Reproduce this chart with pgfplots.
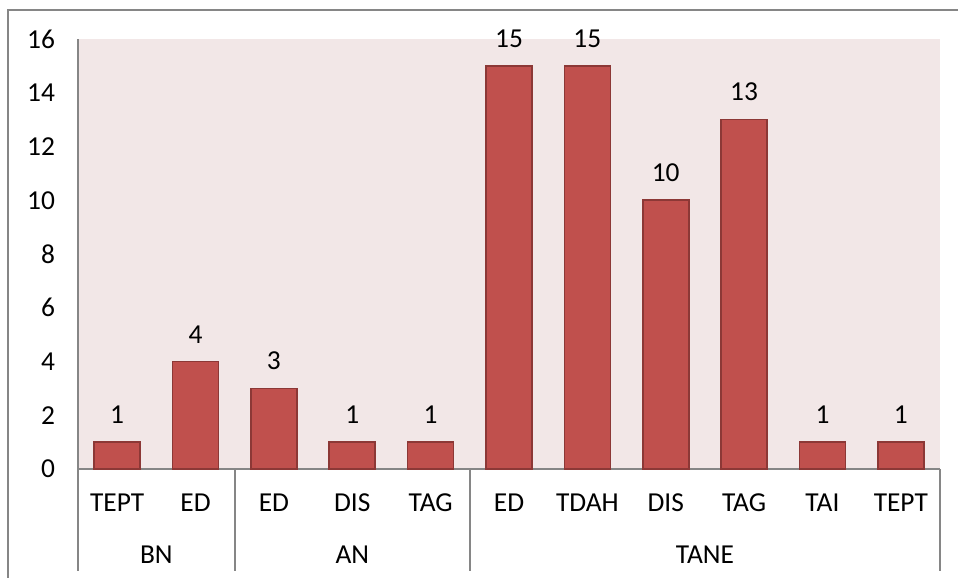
\documentclass[border=0pt]{standalone}
\usepackage{pgfplots}
\pgfplotsset{compat=1.18}
\usepackage{fontspec}
\setmainfont{Carlito}
\definecolor{barfill}{RGB}{192,80,77}
\definecolor{bardraw}{RGB}{140,56,54}
\definecolor{plotbg}{RGB}{242,231,231}
\definecolor{axgray}{RGB}{134,134,134}
\begin{document}
\begin{tikzpicture}
\useasboundingbox (-39pt,-54.5pt) rectangle (440pt,234.5pt);
\draw[axgray, line width=0.8pt] (-35pt,-80pt) -- (-35pt,229.5pt) -- (460pt,229.5pt);
\begin{axis}[
  at={(0,0)}, anchor=south west,
  scale only axis,
  width=431pt, height=215pt,
  xmin=-0.5, xmax=10.5,
  ymin=0, ymax=16,
  ytick={0,2,...,16},
  xtick={0,...,10},
  xticklabels={TEPT,ED,ED,DIS,TAG,ED,TDAH,DIS,TAG,TAI,TEPT},
  major tick length=0pt,
  axis x line*=bottom, axis y line*=left,
  axis line style={draw=axgray, line width=0.8pt, -},
  axis background/.style={fill=plotbg},
  font=\fontsize{13.7}{16}\selectfont,
  /pgf/number format/assume math mode=true,
  yticklabel style={anchor=east, xshift=-8pt},
  xticklabel style={anchor=center, yshift=-17pt},
  ybar, bar width=23pt,
  nodes near coords,
  nodes near coords style={font=\fontsize{13.7}{16}\selectfont, yshift=5.5pt},
  clip=false,
]
\addplot[fill=barfill, draw=bardraw, line width=0.8pt] coordinates {
(0,1) (1,4) (2,3) (3,1) (4,1) (5,15) (6,15) (7,10) (8,13) (9,1) (10,1)};
\foreach \s in {-0.5,1.5,4.5,10.5} {
  \edef\tmp{\noexpand\draw[axgray, line width=0.8pt] (axis cs:\s,0) -- ++(0pt,-51pt);}
  \tmp
}
\node[font=\fontsize{13.7}{16}\selectfont] at ([yshift=-43pt]axis cs:0.5,0) {BN};
\node[font=\fontsize{13.7}{16}\selectfont] at ([yshift=-43pt]axis cs:3,0) {AN};
\node[font=\fontsize{13.7}{16}\selectfont] at ([yshift=-43pt]axis cs:7.5,0) {TANE};
\end{axis}
\end{tikzpicture}
\end{document}
